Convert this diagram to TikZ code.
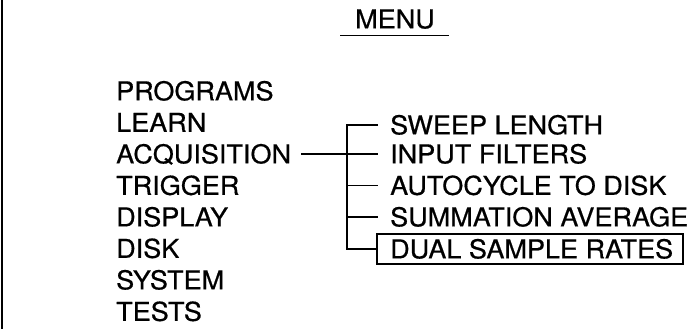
\documentclass[tikz,border=0pt]{standalone}
\usepackage{fontspec}
\setmainfont[FakeBold=0.6,FakeStretch=1.04]{TeX Gyre Heros}
\begin{document}
\begin{tikzpicture}[x=1pt,y=-1pt,
  item/.style={font=\fontsize{26}{26}\selectfont, inner sep=0pt, text height=18.7pt, text depth=0pt, anchor=west},
  conn/.style={line width=1.7pt},
  selbox/.style={draw, line width=1.5pt}]
\useasboundingbox (0,0) rectangle (694,329);
\draw[line width=2.4pt] (2,0) -- (2,329);
% title
\node[item, anchor=center] (menu) at (395,19) {MENU};
\draw[conn] ([shift={(-55pt,-7pt)}]menu.south) -- ([shift={(54pt,-7pt)}]menu.south);
% main list
\node[item] (programs) at (116,91) {PROGRAMS};
\node[item] (learn) at (116,122.5) {LEARN};
\node[item] (acq) at (116,154) {ACQUISITION};
\node[item] (trigger) at (116,185.5) {TRIGGER};
\node[item] (display) at (116,217) {DISPLAY};
\node[item] (disk) at (116,248.5) {DISK};
\node[item] (system) at (116,280) {SYSTEM};
\node[item] (tests) at (116,311.5) {TESTS};
% sub list
\node[item] (sweep) at (390,125) {SWEEP LENGTH};
\node[item] (input) at (390,154) {INPUT FILTERS};
\node[item] (auto) at (390,185.5) {AUTOCYCLE TO DISK};
\node[item] (summ) at (390,217) {SUMMATION AVERAGE};
\node[item] (dual) at (390,249) {DUAL SAMPLE RATES};
\coordinate (boxl) at ([xshift=-13pt]dual.west);
\draw[selbox] ([yshift=-15pt]boxl) rectangle (683,234);
% tree
\coordinate (trunk) at (347,0);
\draw[conn] ([xshift=10pt]acq.east) -- (trunk |- acq);
\draw[conn] ([xshift=-12pt]sweep.west) -| (trunk |- boxl) -- (boxl);
\draw[conn] (trunk |- input) -- ([xshift=-12pt]input.west);
\draw[conn] (trunk |- auto) -- ([xshift=-12pt]auto.west);
\draw[conn] (trunk |- summ) -- ([xshift=-12pt]summ.west);
\end{tikzpicture}
\end{document}
